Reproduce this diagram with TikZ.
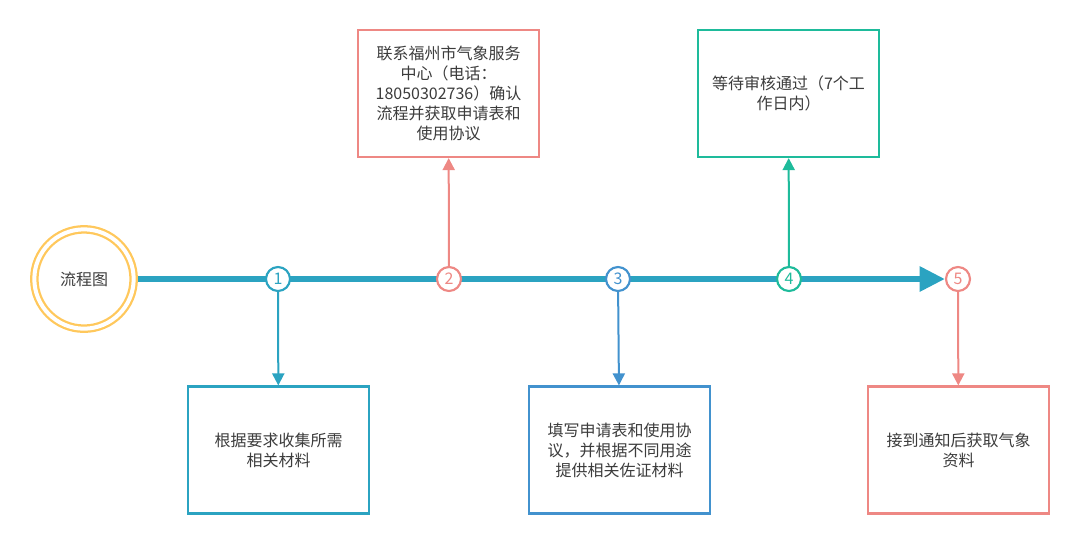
\documentclass[tikz,border=0pt]{standalone}
\usepackage{fontspec}
\setmainfont{Noto Sans CJK SC}
\usepackage{tikz}
\usetikzlibrary{arrows.meta,backgrounds}

\definecolor{flowteal}{RGB}{43,163,193}
\definecolor{flowred}{RGB}{238,136,132}
\definecolor{flowblue}{RGB}{66,146,206}
\definecolor{flowgreen}{RGB}{30,187,155}
\definecolor{flowgold}{RGB}{255,200,92}
\definecolor{flowtext}{RGB}{60,60,60}

\begin{document}
\begin{tikzpicture}[x=0.75pt,y=-0.75pt,font=\fontsize{12}{15}\selectfont,text=flowtext,
numc/.style={circle,draw=#1,line width=1.6pt,fill=white,minimum size=18pt,inner sep=0pt,text=#1,font=\fontsize{12}{12}\selectfont},
infobox/.style={rectangle,draw=#1,line width=1.6pt,fill=white,minimum width=135.75pt,minimum height=95.25pt,align=center,inner sep=2pt},
link/.style={draw=#1,line width=1.5pt,-{Triangle[length=9pt,width=9pt]}}]
\useasboundingbox (0,0) rectangle (1080,544);
% start
\node[circle,draw=flowgold,line width=1.7pt,minimum size=74.5pt,double=white,double distance=3pt] (start) at (84,279) {流程图};
% steps on the line
\node[numc=flowteal] (c1) at (278,279) {1};
\node[numc=flowred] (c2) at (449,279) {2};
\node[numc=flowblue] (c3) at (618,279) {3};
\node[numc=flowgreen] (c4) at (789,279) {4};
\node[numc=flowred] (c5) at (958,279) {5};
% boxes
\node[infobox=flowteal] (b1) at (278.5,450) {根据要求收集所需\\相关材料};
\node[infobox=flowred] (b2) at (448.5,93.5) {联系福州市气象服务\\中心（电话：\\18050302736）确认\\流程并获取申请表和\\使用协议};
\node[infobox=flowblue] (b3) at (619.5,450) {填写申请表和使用协\\议，并根据不同用途\\提供相关佐证材料};
\node[infobox=flowgreen] (b4) at (788.5,93.5) {等待审核通过（7个工\\作日内）};
\node[infobox=flowred] (b5) at (958.5,450) {接到通知后获取气象\\资料};
\begin{pgfonlayer}{background}
\draw[flowteal,line width=4.5pt,-{Triangle[length=19pt,width=18pt]}] (start.east) -- (c5.west);
\end{pgfonlayer}
\draw[link=flowteal] (c1) -- (b1);
\draw[link=flowred] (c2) -- (b2);
\draw[link=flowblue] (c3) -- (b3);
\draw[link=flowgreen] (c4) -- (b4);
\draw[link=flowred] (c5) -- (b5);
\end{tikzpicture}
\end{document}
